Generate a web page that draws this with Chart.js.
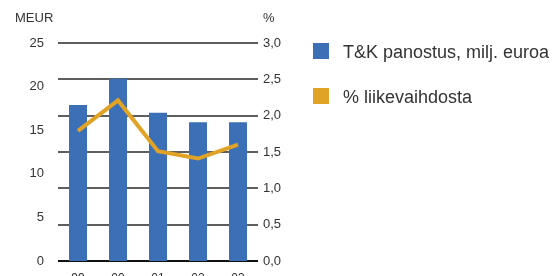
<!DOCTYPE html>
<html>
<head>
<meta charset="utf-8">
<script src="https://cdn.jsdelivr.net/npm/chart.js@4"></script>
<style>
  body { margin: 0; background: #fff; font-family: "Liberation Sans", Arial, sans-serif; }
  #wrap { position: relative; width: 559px; height: 276px; overflow: hidden; }
  #chart { position: absolute; left: 0; top: 0; }
  .unit { position: absolute; top: 10px; font-size: 13px; color: #333; }
  .legend { position: absolute; left: 313px; font-size: 18px; color: #333; }
  .legend span.box { position: absolute; left: 0; top: 0; width: 16px; height: 16px; }
  .legend span.txt { position: absolute; left: 30px; top: 1px; white-space: nowrap; line-height: 16px; }
</style>
</head>
<body>
<div id="wrap">
  <canvas id="chart" width="559" height="276"></canvas>
  <div class="unit" style="left:15px">MEUR</div>
  <div class="unit" style="left:263px">%</div>
  <div class="legend" style="top:43px"><span class="box" style="background:#3b6fb6"></span><span class="txt">T&amp;K panostus, milj. euroa</span></div>
  <div class="legend" style="top:88px"><span class="box" style="background:#e1a325"></span><span class="txt">% liikevaihdosta</span></div>
</div>
<script>
const years = ['99', '00', '01', '02', '03'];
const rdSpend = [17.9, 20.9, 17.0, 15.9, 15.9];
const pctOfSales = [1.79, 2.21, 1.51, 1.41, 1.60];

const tickFont = { family: 'Liberation Sans, Arial, sans-serif', size: 13 };

new Chart(document.getElementById('chart').getContext('2d'), {
  data: {
    labels: years,
    datasets: [
      {
        type: 'line',
        data: pctOfSales,
        yAxisID: 'yPct',
        borderColor: '#e1a325',
        borderWidth: 4,
        pointRadius: 0,
        tension: 0,
        order: 0
      },
      {
        type: 'bar',
        data: rdSpend,
        yAxisID: 'yEur',
        backgroundColor: '#3b6fb6',
        barPercentage: 0.45,
        categoryPercentage: 1,
        order: 1
      }
    ]
  },
  options: {
    responsive: false,
    animation: false,
    layout: { padding: { top: 43, right: 261, left: 0, bottom: 0 } },
    plugins: { legend: { display: false }, tooltip: { enabled: false } },
    scales: {
      x: {
        grid: { display: false },
        border: { display: false },
        ticks: { color: '#333', font: { family: tickFont.family, size: 12 }, padding: 2 },
        afterFit: s => { s.height = 15; }
      },
      yEur: {
        position: 'left',
        min: 0, max: 25,
        grid: { display: false },
        border: { display: false },
        ticks: { stepSize: 5, color: '#333', font: tickFont, padding: 6 },
        afterFit: s => { s.width = 58; }
      },
      yPct: {
        position: 'right',
        min: 0, max: 3,
        grid: {
          color: c => c.tick.value === 0 ? '#111' : '#5e5e5e',
          lineWidth: 2,
          drawTicks: false
        },
        border: { display: false },
        ticks: {
          stepSize: 0.5,
          color: '#333',
          font: tickFont,
          padding: 5,
          callback: v => v.toFixed(1).replace('.', ',')
        },
        afterFit: s => { s.width = 40; }
      }
    }
  }
});
</script>
</body>
</html>
